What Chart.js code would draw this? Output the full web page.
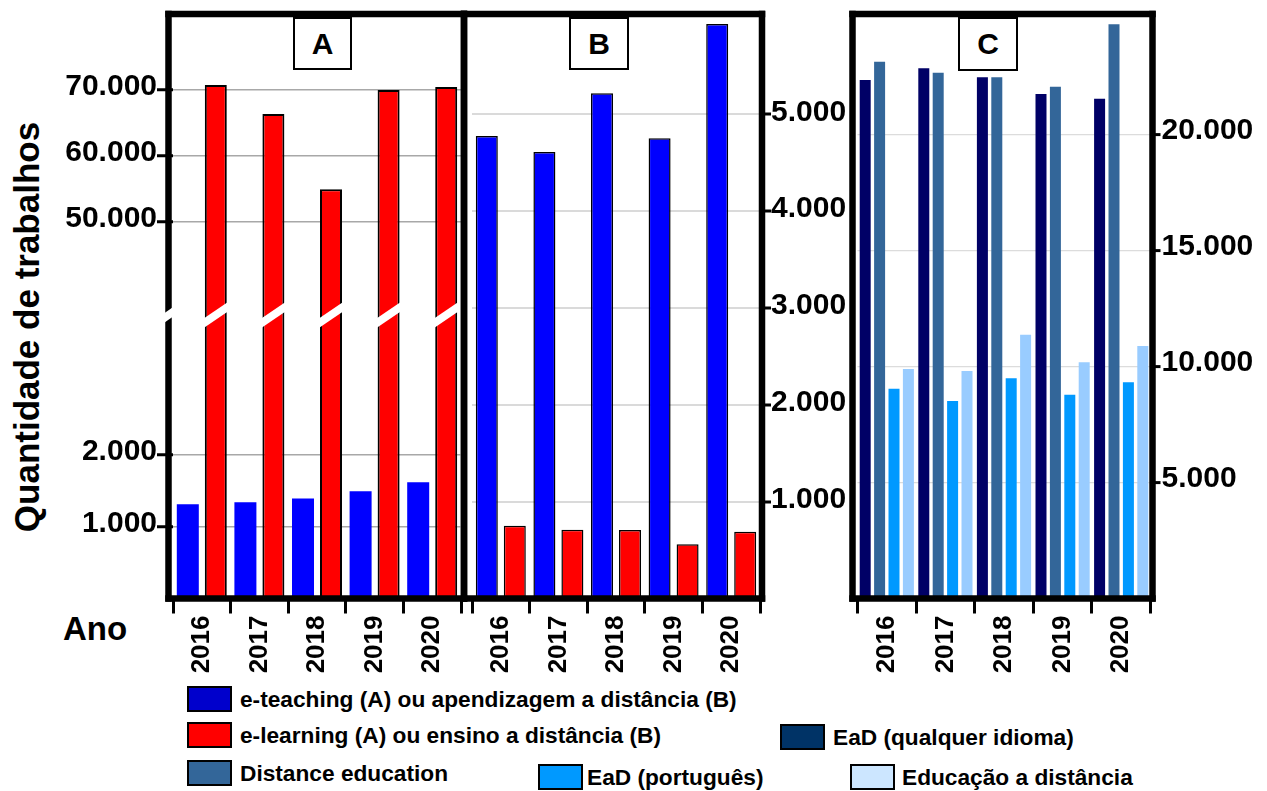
<!DOCTYPE html>
<html lang="pt-BR">
<head>
<meta charset="utf-8">
<title>Quantidade de trabalhos por ano</title>
<script src="https://cdn.jsdelivr.net/npm/chart.js@4.4.1/dist/chart.umd.min.js"></script>
<style>
  html, body { margin: 0; padding: 0; background: #fff; }
  #fig { position: relative; width: 1267px; height: 791px; overflow: hidden; background: #fff;
         font-family: "Liberation Sans", Arial, Helvetica, sans-serif; font-weight: bold; color: #000; }
  #fig canvas { position: absolute; }
  .tag { position: absolute; box-sizing: border-box; border: 2px solid #000; background: #fff;
         font-size: 30px; display: flex; align-items: center; justify-content: center; z-index: 5; }
  .ytitle { position: absolute; left: 27px; top: 327px; font-size: 35px; white-space: nowrap;
            transform: translate(-50%, -50%) rotate(-90deg); }
  .ano { position: absolute; left: 63px; top: 610px; font-size: 33px; }
  .leg { position: absolute; display: flex; align-items: center; white-space: nowrap; font-size: 22.7px; }
  .sw { width: 45px; height: 26px; box-sizing: border-box; border: 2.5px solid #000; margin-right: 8px; flex: none; }
</style>
</head>
<body>
<div id="fig">
  <canvas id="cvATop" width="470" height="316" style="left:0;top:0;z-index:1"></canvas>
  <canvas id="cvALow" width="470" height="400" style="left:0;top:290px;z-index:2"></canvas>
  <canvas id="cvB" width="400" height="690" style="left:460px;top:0;z-index:1"></canvas>
  <canvas id="cvC" width="427" height="690" style="left:840px;top:0;z-index:3"></canvas>

  <div class="tag" style="left:293px;top:17px;width:59px;height:53px">A</div>
  <div class="tag" style="left:569px;top:17px;width:60px;height:53px">B</div>
  <div class="tag" style="left:958px;top:17px;width:60px;height:54px">C</div>

  <div class="ytitle">Quantidade de trabalhos</div>
  <div class="ano">Ano</div>

  <div class="leg" style="left:187px;top:686px;height:26px"><span class="sw" style="background:#0000CC"></span>e-teaching (A) ou apendizagem a distância (B)</div>
  <div class="leg" style="left:187px;top:722px;height:26px"><span class="sw" style="background:#FF0000"></span>e-learning (A) ou ensino a distância (B)</div>
  <div class="leg" style="left:780px;top:724px;height:26px"><span class="sw" style="background:#003366"></span>EaD (qualquer idioma)</div>
  <div class="leg" style="left:187px;top:760px;height:26px"><span class="sw" style="background:#336699"></span>Distance education</div>
  <div class="leg" style="left:538px;top:764px;height:26px"><span class="sw" style="background:#0099FF;margin-right:4px"></span>EaD (português)</div>
  <div class="leg" style="left:850px;top:764px;height:26px"><span class="sw" style="background:#CCE6FF;margin-right:7px"></span>Educação a distância</div>
</div>

<script>
// ---- data ----
const years = ['2016', '2017', '2018', '2019', '2020'];

// Panel A: e-teaching / e-learning
const aTeaching = [1315, 1340, 1395, 1495, 1620];
const aLearning = [70760, 66350, 54920, 70000, 70460];
const aTicksLow = [1000, 2000];
const aTicksHigh = [50000, 60000, 70000];

// Panel B: aprendizagem a distância / ensino a distância
const bAprendizagem = [4776, 4611, 5217, 4752, 5932];
const bEnsino = [752, 710, 707, 560, 690];
const bTicks = [1000, 2000, 3000, 4000, 5000];

// Panel C: four search terms
const cEadQualquer = [22368, 22873, 22485, 21764, 21562];
const cDistanceEducation = [23158, 22683, 22485, 22079, 24771];
const cEadPortugues = [9051, 8520, 9499, 8792, 9327];
const cEducacao = [9901, 9814, 11380, 10190, 10893];
const cTicks = [5000, 10000, 15000, 20000];

// ---- helpers ----
const FONT = "'Liberation Sans', Arial, Helvetica, sans-serif";
Chart.defaults.font.family = FONT;
Chart.defaults.font.weight = 'bold';
Chart.defaults.color = '#000';

const fmt = v => String(v).replace(/\B(?=(\d{3})+(?!\d))/g, '.');

// thick black box around each panel, placed relative to the chart area
const framePlugin = {
  id: 'panelFrame',
  afterDraw(chart, _args, o) {
    if (!o || !o.sides) return;
    const a = chart.chartArea, ctx = chart.ctx, w = o.width || 6.5, h = w / 2;
    const L = a.left + (o.left || 0), R = a.right + (o.right || 0);
    const T = a.top + (o.top || 0), B = a.bottom + (o.bottom || 0);
    const has = s => o.sides.includes(s);
    ctx.save();
    ctx.strokeStyle = '#000';
    ctx.lineWidth = w;
    const seg = (x1, y1, x2, y2) => { ctx.beginPath(); ctx.moveTo(x1, y1); ctx.lineTo(x2, y2); ctx.stroke(); };
    if (has('l')) seg(L, has('t') ? T - h : a.top, L, has('b') ? B + h : a.bottom);
    if (has('r')) seg(R, has('t') ? T - h : a.top, R, has('b') ? B + h : a.bottom);
    if (has('t')) seg(L - h, T, R + h, T);
    if (has('b')) seg(L - h, B, R + h, B);
    ctx.restore();
  }
};

// white diagonal cuts marking the broken value axis
const breakPlugin = {
  id: 'axisBreak',
  afterDraw(chart, _args, o) {
    if (!o || !o.enabled) return;
    const ctx = chart.ctx, yc = o.y, half = o.thickness / 2, k = o.slope;
    const band = (x1, x2, xc) => {
      ctx.beginPath();
      ctx.moveTo(x1, yc - k * (x1 - xc) - half);
      ctx.lineTo(x2, yc - k * (x2 - xc) - half);
      ctx.lineTo(x2, yc - k * (x2 - xc) + half);
      ctx.lineTo(x1, yc - k * (x1 - xc) + half);
      ctx.closePath();
      ctx.fill();
    };
    ctx.save();
    ctx.fillStyle = '#fff';
    const ax = chart.chartArea.left + o.axisOffset;
    band(ax - 5, ax + 5, ax);
    chart.getDatasetMeta(o.datasetIndex).data.forEach(bar => {
      const p = bar.getProps(['x', 'width'], true);
      band(p.x - p.width / 2 - 1.5, p.x + p.width / 2 + 1.5, p.x);
    });
    ctx.restore();
  }
};

Chart.register(framePlugin, breakPlugin);

function fixedAxis(size, horizontal) {
  return function (scale) {
    if (horizontal) scale.height = size; else scale.width = size;
    scale.paddingTop = 0; scale.paddingBottom = 0;
    scale.paddingLeft = 0; scale.paddingRight = 0;
  };
}
function useTicks(values) {
  return function (scale) { scale.ticks = values.map(v => ({ value: v })); };
}

function yAxis(opts) {
  return {
    type: 'linear',
    position: opts.position,
    min: opts.min, max: opts.max,
    afterBuildTicks: useTicks(opts.ticks),
    afterFit: fixedAxis(opts.width, false),
    border: { display: false },
    grid: {
      color: opts.gridColor, lineWidth: opts.gridWidth,
      drawTicks: true, tickLength: opts.tickLength, tickWidth: 3, tickColor: '#000'
    },
    ticks: {
      font: { size: 30, weight: 'bold' }, color: '#000',
      padding: opts.padding, labelOffset: opts.labelOffset,
      callback: v => fmt(v)
    }
  };
}

function xAxis(height, show) {
  return {
    type: 'category',
    display: show,
    afterFit: fixedAxis(height, true),
    border: { display: false },
    grid: {
      display: true, offset: true, drawOnChartArea: false,
      drawTicks: true, tickLength: 15, tickWidth: 3, tickColor: '#000'
    },
    ticks: {
      font: { size: 26, weight: 'bold' }, color: '#000',
      minRotation: 90, maxRotation: 90, padding: 2, autoSkip: false
    }
  };
}

function bar(label, data, color, border, widthPct, catPct) {
  return {
    label, data, backgroundColor: color,
    borderColor: '#000', borderWidth: border, borderSkipped: 'start',
    barPercentage: widthPct, categoryPercentage: catPct, clip: 0
  };
}

const base = {
  responsive: false, animation: false, events: [],
  plugins: { legend: { display: false }, tooltip: { enabled: false } }
};

// ---- Panel A, upper part (large counts) ----
new Chart(document.getElementById('cvATop'), {
  type: 'bar',
  data: {
    labels: years,
    datasets: [
      bar('e-teaching', aTeaching, '#0000FF', 0, 0.786, 0.972),
      bar('e-learning', aLearning, '#FF0000', 2, 0.786, 0.972)
    ]
  },
  options: {
    ...base,
    layout: { padding: { left: 0, right: 9, top: 14, bottom: 0 } },
    scales: {
      x: xAxis(0, false),
      y: yAxis({ position: 'left', min: 35680, max: 81540, ticks: aTicksHigh, width: 173,
                 gridColor: '#a8a8a8', gridWidth: 1.5, tickLength: 16, padding: 0, labelOffset: -3 })
    },
    plugins: { ...base.plugins, panelFrame: { sides: 'ltr', left: -4.5, right: 3, width: 6.5 } }
  }
});

// ---- Panel A, lower part (small counts) ----
new Chart(document.getElementById('cvALow'), {
  type: 'bar',
  data: {
    labels: years,
    datasets: [
      bar('e-teaching', aTeaching, '#0000FF', 0, 0.786, 0.972),
      bar('e-learning', aLearning, '#FF0000', 2, 0.786, 0.972)
    ]
  },
  options: {
    ...base,
    layout: { padding: { left: 0, right: 9, top: 26, bottom: 0 } },
    scales: {
      x: xAxis(91.5, true),
      y: yAxis({ position: 'left', min: 0, max: 3937, ticks: aTicksLow, width: 173,
                 gridColor: '#a8a8a8', gridWidth: 1.5, tickLength: 16, padding: 0, labelOffset: -3 })
    },
    plugins: {
      ...base.plugins,
      panelFrame: { sides: 'lbr', left: -4.5, right: 3, width: 6.5 },
      axisBreak: { enabled: true, y: 25, thickness: 9.5, slope: 0.68, datasetIndex: 1, axisOffset: -4.5 }
    }
  }
});

// ---- Panel B ----
new Chart(document.getElementById('cvB'), {
  type: 'bar',
  data: {
    labels: years,
    datasets: [
      bar('aprendizagem a distância', bAprendizagem, '#0000FF', 1.5, 0.786, 0.972),
      bar('ensino a distância', bEnsino, '#FF0000', 1.5, 0.786, 0.972)
    ]
  },
  options: {
    ...base,
    layout: { padding: { left: 12, right: 0, top: 14, bottom: 0 } },
    scales: {
      x: xAxis(91.5, true),
      y: yAxis({ position: 'right', min: 0, max: 6036, ticks: bTicks, width: 100,
                 gridColor: '#dadada', gridWidth: 2, tickLength: 11, padding: 0, labelOffset: -2 })
    },
    plugins: { ...base.plugins, panelFrame: { sides: 'ltrb', left: -8, right: 2, width: 6.5 } }
  }
});

// ---- Panel C ----
new Chart(document.getElementById('cvC'), {
  type: 'bar',
  data: {
    labels: years,
    datasets: [
      bar('EaD (qualquer idioma)', cEadQualquer, '#000066', 0, 0.764, 0.983),
      bar('Distance education', cDistanceEducation, '#336699', 0, 0.764, 0.983),
      bar('EaD (português)', cEadPortugues, '#0099FF', 0, 0.764, 0.983),
      bar('Educação a distância', cEducacao, '#99CCFF', 0, 0.764, 0.983)
    ]
  },
  options: {
    ...base,
    layout: { padding: { left: 17.5, right: 0, top: 14, bottom: 0 } },
    scales: {
      x: xAxis(91.5, true),
      y: yAxis({ position: 'right', min: 0, max: 25216, ticks: cTicks, width: 116.5,
                 gridColor: '#dcdcdc', gridWidth: 1.2, tickLength: 10, padding: 1, labelOffset: -4 })
    },
    plugins: { ...base.plugins, panelFrame: { sides: 'ltrb', left: -5, right: 2, width: 6.5 } }
  }
});
</script>
</body>
</html>
